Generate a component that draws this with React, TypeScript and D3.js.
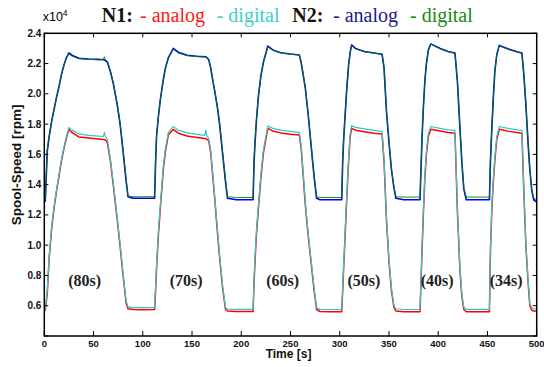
import React from 'react';
import * as d3 from 'd3';

// time axis [s], shared by all four traces (one line per test cycle)
const time = [
  0, 1, 3, 5, 7.5, 10, 12.5, 15, 17.5, 20, 22.5, 25, 28, 35, 45, 55, 60, 61, 62, 64, 67, 70, 74, 77, 80, 83, 85, 90, 100, 112,
  113, 114, 116, 118, 121, 123, 126, 131, 136, 145, 155, 163, 164, 165, 167, 169, 171, 173, 176, 178, 181, 184, 186, 195, 205, 212,
  213, 214, 215.5, 217.5, 220, 222.5, 227, 232, 240, 250, 259, 261, 263, 265, 268, 271.5, 274, 276.5, 280, 290, 302,
  303, 304, 305.5, 307, 309, 310.5, 312, 316, 325, 335, 343, 345, 347.5, 350, 352.5, 355, 357, 365, 373, 381.5,
  382.5, 383.5, 385, 386.5, 388, 390, 392.5, 402, 410, 417, 419.5, 422, 424, 426, 428.5, 435, 445, 452,
  453, 454.5, 456, 457.5, 459.5, 462, 472, 480, 485, 487, 489, 491, 493, 495, 497, 500
];

// spool speed in units of 1e4 rpm
const n1Analog = [
  0.565, 0.57, 0.68, 0.92, 1.11, 1.25, 1.36, 1.46, 1.56, 1.64, 1.71, 1.765, 1.745, 1.715, 1.708, 1.702, 1.698, 1.697, 1.695, 1.68, 1.56, 1.40, 1.17, 0.99, 0.80, 0.62, 0.58, 0.575, 0.574, 0.575,
  0.70, 0.85, 1.08, 1.26, 1.51, 1.62, 1.73, 1.765, 1.74, 1.722, 1.712, 1.705, 1.704, 1.70, 1.69, 1.61, 1.46, 1.31, 1.07, 0.92, 0.72, 0.575, 0.565, 0.562, 0.562, 0.562,
  0.75, 0.90, 1.08, 1.25, 1.45, 1.61, 1.772, 1.755, 1.742, 1.733, 1.728, 1.63, 1.45, 1.27, 1.06, 0.85, 0.70, 0.575, 0.562, 0.56, 0.56,
  0.70, 0.85, 1.07, 1.29, 1.55, 1.71, 1.772, 1.76, 1.75, 1.74, 1.734, 1.55, 1.16, 0.89, 0.70, 0.59, 0.565, 0.56, 0.56, 0.56,
  0.75, 0.95, 1.22, 1.45, 1.60, 1.72, 1.766, 1.755, 1.745, 1.74, 1.22, 0.84, 0.66, 0.575, 0.56, 0.56, 0.56, 0.56,
  0.95, 1.25, 1.42, 1.56, 1.70, 1.766, 1.752, 1.744, 1.74, 1.34, 1.00, 0.78, 0.60, 0.57, 0.565, 0.565
];

const n1Digital = [
  0.575, 0.58, 0.70, 0.93, 1.12, 1.26, 1.37, 1.47, 1.57, 1.65, 1.72, 1.778, 1.762, 1.735, 1.725, 1.72, 1.718, 1.745, 1.72, 1.70, 1.575, 1.415, 1.185, 1.005, 0.815, 0.635, 0.592, 0.588, 0.587, 0.588,
  0.72, 0.87, 1.10, 1.28, 1.53, 1.64, 1.745, 1.785, 1.76, 1.742, 1.732, 1.725, 1.76, 1.722, 1.705, 1.625, 1.475, 1.325, 1.085, 0.935, 0.735, 0.588, 0.578, 0.576, 0.576, 0.576,
  0.77, 0.92, 1.10, 1.27, 1.47, 1.63, 1.787, 1.772, 1.76, 1.752, 1.745, 1.645, 1.465, 1.285, 1.075, 0.865, 0.715, 0.588, 0.576, 0.575, 0.575,
  0.72, 0.87, 1.09, 1.31, 1.57, 1.73, 1.79, 1.778, 1.768, 1.758, 1.752, 1.565, 1.175, 0.905, 0.715, 0.605, 0.58, 0.575, 0.575, 0.575,
  0.77, 0.97, 1.24, 1.47, 1.62, 1.74, 1.784, 1.772, 1.762, 1.758, 1.235, 0.855, 0.675, 0.59, 0.576, 0.576, 0.576, 0.576,
  0.97, 1.27, 1.44, 1.58, 1.72, 1.784, 1.77, 1.762, 1.758, 1.355, 1.015, 0.795, 0.615, 0.585, 0.58, 0.58
];

const n2Analog = [
  1.29, 1.29, 1.62, 1.72, 1.82, 1.90, 1.98, 2.05, 2.13, 2.19, 2.24, 2.27, 2.255, 2.235, 2.23, 2.228, 2.225, 2.225, 2.22, 2.21, 2.15, 2.07, 1.93, 1.80, 1.62, 1.43, 1.32, 1.31, 1.31, 1.31,
  1.55, 1.72, 1.86, 1.97, 2.10, 2.17, 2.24, 2.30, 2.275, 2.255, 2.248, 2.245, 2.245, 2.24, 2.225, 2.17, 2.09, 2.02, 1.90, 1.80, 1.61, 1.42, 1.31, 1.30, 1.30, 1.30,
  1.55, 1.68, 1.83, 1.99, 2.12, 2.21, 2.316, 2.29, 2.272, 2.263, 2.257, 2.20, 2.12, 2.04, 1.86, 1.62, 1.45, 1.31, 1.30, 1.30, 1.30,
  1.55, 1.70, 1.86, 2.02, 2.19, 2.27, 2.323, 2.30, 2.28, 2.27, 2.262, 2.17, 1.88, 1.68, 1.50, 1.38, 1.31, 1.30, 1.30, 1.30,
  1.50, 1.70, 1.92, 2.09, 2.20, 2.29, 2.33, 2.30, 2.28, 2.27, 2.08, 1.78, 1.55, 1.37, 1.30, 1.30, 1.30, 1.30,
  1.55, 1.78, 1.98, 2.15, 2.26, 2.32, 2.295, 2.278, 2.27, 2.12, 1.93, 1.70, 1.50, 1.36, 1.30, 1.285
];

const n2Digital = [
  1.30, 1.30, 1.63, 1.72, 1.82, 1.90, 1.98, 2.05, 2.13, 2.19, 2.24, 2.265, 2.25, 2.232, 2.228, 2.225, 2.228, 2.245, 2.225, 2.215, 2.155, 2.075, 1.935, 1.805, 1.625, 1.44, 1.325, 1.32, 1.32, 1.32,
  1.56, 1.73, 1.86, 1.97, 2.10, 2.17, 2.24, 2.295, 2.27, 2.252, 2.246, 2.244, 2.25, 2.242, 2.228, 2.175, 2.095, 2.025, 1.905, 1.805, 1.615, 1.43, 1.32, 1.315, 1.315, 1.315,
  1.56, 1.69, 1.84, 1.99, 2.12, 2.21, 2.31, 2.288, 2.27, 2.262, 2.257, 2.205, 2.125, 2.045, 1.865, 1.625, 1.455, 1.32, 1.315, 1.315, 1.315,
  1.56, 1.71, 1.87, 2.02, 2.19, 2.27, 2.32, 2.298, 2.278, 2.268, 2.262, 2.175, 1.885, 1.685, 1.505, 1.385, 1.32, 1.318, 1.318, 1.318,
  1.51, 1.71, 1.92, 2.09, 2.20, 2.29, 2.328, 2.298, 2.278, 2.268, 2.085, 1.785, 1.555, 1.375, 1.318, 1.318, 1.318, 1.318,
  1.56, 1.78, 1.98, 2.15, 2.26, 2.318, 2.292, 2.276, 2.268, 2.125, 1.935, 1.705, 1.505, 1.365, 1.31, 1.30
];

const xTicks = [0, 50, 100, 150, 200, 250, 300, 350, 400, 450, 500];
const yTicks = [0.4, 0.6, 0.8, 1.0, 1.2, 1.4, 1.6, 1.8, 2.0, 2.2, 2.4];
const yTickLabels = ['', '0.6', '0.8', '1.0', '1.2', '1.4', '1.6', '1.8', '2.0', '2.2', '2.4'];

const cycleLabels = ['(80s)', '(70s)', '(60s)', '(50s)', '(40s)', '(34s)'];
const cycleLabelTimes = [41, 144, 242, 324.5, 399, 469];
const cycleLabelLevel = 0.77;

// the digital traces are drawn a bit thinner on top of the analog ones
const series = [
  { name: 'N1 analog', values: n1Analog, color: '#ff0000', w: 1.5 },
  { name: 'N1 digital', values: n1Digital, color: '#2ec8c8', w: 1.2 },
  { name: 'N2 analog', values: n2Analog, color: '#0000ee', w: 1.6 },
  { name: 'N2 digital', values: n2Digital, color: '#008000', w: 0.9 }
];

const width = 544;
const height = 367;
const margin = { top: 33.3, right: 7.3, bottom: 31, left: 44.3 };

const x = d3.scaleLinear().domain([0, 500]).range([margin.left, width - margin.right]);
const y = d3.scaleLinear().domain([0.4, 2.4]).range([height - margin.bottom, margin.top]);

const tickLen = 4;
const sans = 'Arial, "Liberation Sans", Helvetica, sans-serif';
const serif = '"Times New Roman", "Liberation Serif", Times, serif';

export default function App() {
  const line = (vals: number[]) =>
    d3.line<number>()
      .x((_, i) => x(time[i]))
      .y(d => y(d))(vals) || '';

  const x0 = x.range()[0];
  const x1 = x.range()[1];
  const y0 = y.range()[0];
  const y1 = y.range()[1];

  return (
    <svg width={width} height={height} style={{ position: 'absolute', left: 0, top: 0, background: '#fff' }}>
      <rect width={width} height={height} fill="#fff" />

      {/* title / legend */}
      <g fontFamily={serif} fontSize={20}>
        <text x={101.7} y={21.7} fontWeight="bold" fill="#111">N1:</text>
        <text x={140} y={21.7} fill="#ff1a1a">- analog</text>
        <text x={216.7} y={21.7} fill="#3ccfcf">- digital</text>
        <text x={292.3} y={21.7} fontWeight="bold" fill="#111">N2:</text>
        <text x={333} y={21.7} fill="#1c1c8c">- analog</text>
        <text x={410} y={21.7} fill="#168a16">- digital</text>
      </g>

      {/* exponent */}
      <text x={42.7} y={21} fontFamily={sans} fontSize={12.5} fill="#000">
        x10<tspan fontSize={8.5} dy={-5.5}>4</tspan>
      </text>

      <g fill="none" strokeLinejoin="round">
        {series.map(s => (
          <path key={s.name} d={line(s.values)} stroke={s.color} strokeWidth={s.w} />
        ))}
      </g>

      {/* ticks, inward on all sides */}
      <g stroke="#000" strokeWidth={1}>
        {xTicks.map(t => (
          <g key={'x' + t}>
            <line x1={x(t)} x2={x(t)} y1={y0} y2={y0 - tickLen - 1} />
            <line x1={x(t)} x2={x(t)} y1={y1} y2={y1 + tickLen} />
          </g>
        ))}
        {yTicks.map(t => (
          <g key={'y' + t}>
            <line x1={x0} x2={x0 + tickLen} y1={y(t)} y2={y(t)} />
            <line x1={x1} x2={x1 - tickLen} y1={y(t)} y2={y(t)} />
          </g>
        ))}
      </g>
      <rect x={x0} y={y1} width={x1 - x0} height={y0 - y1} fill="none" stroke="#000" strokeWidth={1.5} />

      <g fontFamily={sans} fontWeight="bold" fill="#111">
        {xTicks.map(t => (
          <text key={'xl' + t} x={x(t)} y={y0 + 10.5} textAnchor="middle" fontSize={9.5}>{t}</text>
        ))}
        {yTicks.map((t, i) => (
          <text key={'yl' + t} x={x0 - 3} y={y(t) + 3.5} textAnchor="end" fontSize={10}>{yTickLabels[i]}</text>
        ))}
      </g>

      <text x={x(248)} y={358} textAnchor="middle" fontFamily={sans} fontWeight="bold" fontSize={12} fill="#111">Time [s]</text>
      <text transform={`translate(20.5,${y(1.53)}) rotate(-90)`} textAnchor="middle" fontFamily={sans} fontWeight="bold" fontSize={13.5} fill="#111">Spool-Speed [rpm]</text>

      <g fontFamily={serif} fontWeight="bold" fontSize={16} fill="#222" textAnchor="middle">
        {cycleLabels.map((l, i) => (
          <text key={l} x={x(cycleLabelTimes[i])} y={y(cycleLabelLevel)} dy="0.35em">{l}</text>
        ))}
      </g>
    </svg>
  );
}
